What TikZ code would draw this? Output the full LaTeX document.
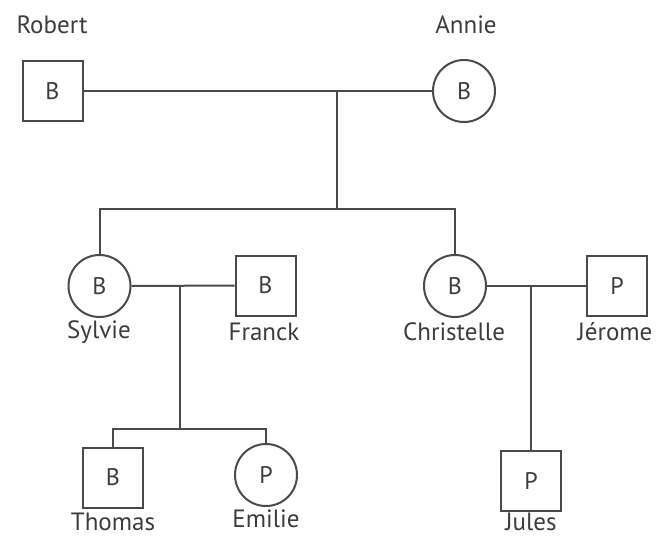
\documentclass[tikz,border=0pt]{standalone}
\usepackage{fontspec}
\setmainfont{PT Sans}
\usepackage{xcolor}
\usepackage{tikz}
\definecolor{ink}{HTML}{4A4A4A}
\definecolor{txt}{HTML}{3C3C3C}
\tikzset{
  link/.style={draw=ink, line width=2pt},
  male/.style={rectangle, draw=ink, line width=2pt, minimum size=60pt, inner sep=0pt, text=txt, font=\fontsize{24}{27}\selectfont},
  female/.style={circle, draw=ink, line width=2pt, minimum size=62pt, inner sep=0pt, text=txt, font=\fontsize{24}{27}\selectfont},
  lab/.style={text=txt, font=\fontsize{25}{28}\selectfont, inner sep=0pt}
}

\begin{document}
\begin{tikzpicture}[x=1pt,y=-1pt]
  \useasboundingbox (0,0) rectangle (663,536);
  \node[male] (robert) at (52.5,91) {B};
  \node[female] (annie) at (464,91) {B};
  \node[female] (sylvie) at (99.5,286) {B};
  \node[male] (franck) at (265.5,285.5) {B};
  \node[female] (christelle) at (455,286) {B};
  \node[male] (jerome) at (617,286) {P};
  \node[male] (thomas) at (113,477.5) {B};
  \node[female] (emilie) at (266,475) {P};
  \node[male] (jules) at (531,480.5) {P};
  \node[lab] (robertlab) at (52,25) {Robert};
  \node[lab] (annielab) at (466,25) {Annie};
  \node[lab] (sylvielab) at (99,332) {Sylvie};
  \node[lab] (francklab) at (264,332) {Franck};
  \node[lab] (christellelab) at (454,332) {Christelle};
  \node[lab] (jeromelab) at (615,332) {Jérome};
  \node[lab] (thomaslab) at (113,522) {Thomas};
  \node[lab] (emilielab) at (266,519) {Emilie};
  \node[lab] (juleslab) at (531,522) {Jules};
  \coordinate (m1) at (337,91);
  \coordinate (c1) at (337,209);
  \coordinate (m2) at (180,286);
  \coordinate (c2) at (180,429);
  \coordinate (m3) at (531,286);
  \draw[link] (robert.east) -- (annie.west);
  \draw[link] (m1) -- (c1);
  \draw[link] (sylvie.north) |- (c1) -| (christelle.north);
  \draw[link] (sylvie.east) -- (franck.west);
  \draw[link] (m2) -- (c2);
  \draw[link] (thomas.north) |- (c2) -| (emilie.north);
  \draw[link] (christelle.east) -- (jerome.west);
  \draw[link] (m3) -- (jules.north);
\end{tikzpicture}
\end{document}
